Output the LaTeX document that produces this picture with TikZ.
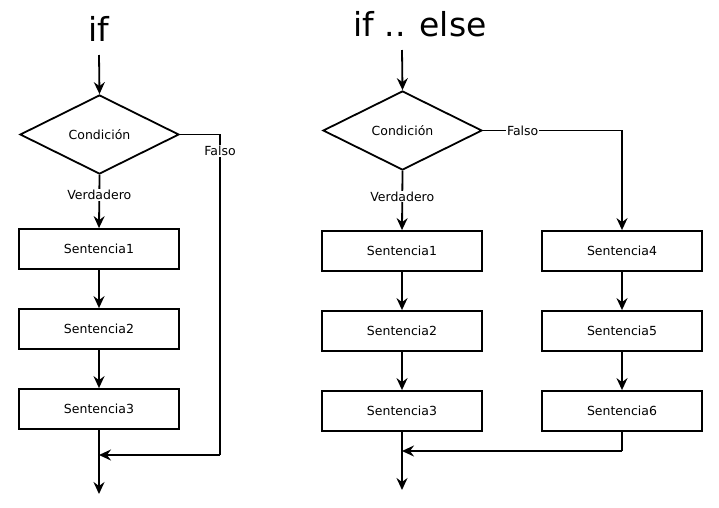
\documentclass[tikz,border=0pt]{standalone}
\usepackage{fontspec}
\setmainfont{DejaVu Sans}
\usetikzlibrary{shapes.geometric,arrows.meta}
\begin{document}
\begin{tikzpicture}[x=1pt,y=-1pt,
  every node/.style={font=\fontsize{12.5}{15}\selectfont},
  ttl/.style={font=\fontsize{33}{36}\selectfont, inner sep=0pt},
  cond/.style={draw, line width=1.8pt, shape=diamond, minimum width=159pt, minimum height=79pt, inner sep=0pt},
  stmt/.style={draw, line width=1.8pt, rectangle, minimum width=160pt, minimum height=40pt, inner sep=0pt},
  lbl/.style={fill=white, inner sep=1pt},
  ln/.style={line width=1.8pt},
  arr/.style={line width=1.8pt, -{Stealth[length=12pt,width=11pt,inset=4pt]}}
]
\useasboundingbox (0,0) rectangle (719,507);
% left: if
\node[ttl] (t1) at (99,29) {if};
\coordinate (s1) at (99,55);
\node[cond] (d1) at (99.5,134.5) {Condición};
\node[stmt] (a1) at (99,249) {Sentencia1};
\node[stmt] (a2) at (99,329) {Sentencia2};
\node[stmt] (a3) at (99,409) {Sentencia3};
\coordinate (m1) at (220,455);
\coordinate (e1) at (99,494);
\draw[arr] (s1) -- (d1.north);
\draw[arr] (d1.south) -- node[lbl,pos=0.38] {Verdadero} (a1.north);
\draw[arr] (a1) -- (a2);
\draw[arr] (a2) -- (a3);
\draw[arr] (a3.south) -- (e1);
\draw[ln] (d1.east) -| node[lbl,pos=0.526] {Falso} (m1);
\draw[arr] (m1) -- (a3.south |- m1);
% right: if .. else
\node[ttl] (t2) at (420,24) {if .. else};
\coordinate (s2) at (402,50);
\node[cond] (d2) at (402.5,130.5) {Condición};
\node[stmt] (b1) at (402,251) {Sentencia1};
\node[stmt] (b2) at (402,331) {Sentencia2};
\node[stmt] (b3) at (402,411) {Sentencia3};
\node[stmt] (c1) at (622,251) {Sentencia4};
\node[stmt] (c2) at (622,331) {Sentencia5};
\node[stmt] (c3) at (622,411) {Sentencia6};
\coordinate (m2) at (622,451);
\coordinate (e2) at (402,490);
\draw[arr] (s2) -- (d2.north);
\draw[arr] (d2.south) -- node[lbl,pos=0.43] {Verdadero} (b1.north);
\draw[arr] (b1) -- (b2);
\draw[arr] (b2) -- (b3);
\draw[arr] (b3.south) -- (e2);
\draw[arr] (d2.east) -| node[lbl,pos=0.143] {Falso} (c1.north);
\draw[arr] (c1) -- (c2);
\draw[arr] (c2) -- (c3);
\draw[ln] (c3.south) -- (m2);
\draw[arr] (m2) -- (b3.south |- m2);
\end{tikzpicture}
\end{document}
